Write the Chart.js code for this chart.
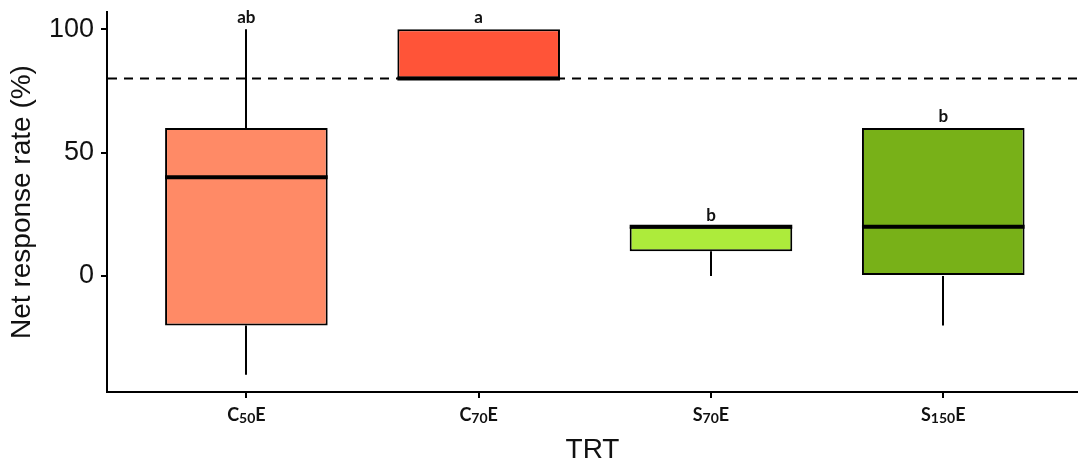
<!DOCTYPE html>
<html>
<head>
<meta charset="utf-8">
<script src="https://cdn.jsdelivr.net/npm/chart.js@4/dist/chart.umd.min.js"></script>
<style>
  html, body { margin: 0; padding: 0; background: #fff; }
  #wrap { width: 1078px; height: 466px; position: relative; }
</style>
</head>
<body>
<div id="wrap"><canvas id="c" width="1078" height="466"></canvas></div>
<script>
// ---- data ----
const categories = ['C₅₀E', 'C₇₀E', 'S₇₀E', 'S₁₅₀E'];
const minVals    = [-40, 80, 0, -20];
const q1Vals     = [-20, 80, 10, 0];
const medianVals = [40, 80, 20, 20];
const q3Vals     = [60, 100, 20, 60];
const maxVals    = [100, 100, 20, 60];
const groupLetters = ['ab', 'a', 'b', 'b'];
const yTickValues = [0, 50, 100];
const thresholdValue = 80;
const xTitle = 'TRT';
const yTitle = 'Net response rate (%)';

const boxColors = ['#FF8A66', '#FF5438', '#ADEB3B', '#78B118'];

const SUB = {'₀':'0','₁':'1','₂':'2','₃':'3','₄':'4','₅':'5','₆':'6','₇':'7','₈':'8','₉':'9'};

const boxPlugin = {
  id: 'boxParts',
  beforeDatasetsDraw(chart) {
    const {ctx, chartArea, scales: {x, y}} = chart;
    ctx.save();
    const ty = y.getPixelForValue(thresholdValue);
    ctx.strokeStyle = '#000';
    ctx.lineWidth = 2;
    ctx.setLineDash([9, 7]);
    ctx.beginPath();
    ctx.moveTo(chartArea.left + 1, ty);
    ctx.lineTo(chartArea.right, ty);
    ctx.stroke();
    ctx.setLineDash([]);
    categories.forEach((c, i) => {
      const cx = Math.round(x.getPixelForValue(i + 1));
      ctx.beginPath();
      ctx.moveTo(cx, y.getPixelForValue(q3Vals[i]));
      ctx.lineTo(cx, y.getPixelForValue(maxVals[i]));
      ctx.moveTo(cx, y.getPixelForValue(q1Vals[i]));
      ctx.lineTo(cx, y.getPixelForValue(minVals[i]));
      ctx.stroke();
    });
    ctx.restore();
  },
  afterDatasetsDraw(chart) {
    const {ctx, scales: {x, y}} = chart;
    const meta = chart.getDatasetMeta(0);
    ctx.save();
    categories.forEach((c, i) => {
      const bar = meta.data[i];
      const half = bar.width / 2;
      const my = y.getPixelForValue(medianVals[i]);
      ctx.strokeStyle = '#000';
      ctx.lineWidth = 4;
      ctx.beginPath();
      ctx.moveTo(bar.x - half, my);
      ctx.lineTo(bar.x + half, my);
      ctx.stroke();
      ctx.fillStyle = '#111';
      ctx.font = 'bold 17px Lato';
      ctx.textAlign = 'center';
      ctx.textBaseline = 'alphabetic';
      ctx.fillText(groupLetters[i], bar.x, y.getPixelForValue(maxVals[i]) - 6);
    });
    ctx.restore();
  },
  afterDraw(chart) {
    const {ctx, scales: {x}} = chart;
    ctx.save();
    ctx.fillStyle = '#111';
    ctx.textBaseline = 'alphabetic';
    ctx.textAlign = 'left';
    const big = 'bold 18px Lato', small = 'bold 14px Lato';
    categories.forEach((lab, i) => {
      const cx = x.getPixelForValue(i + 1);
      const parts = [];
      for (const ch of lab) {
        const sub = SUB[ch] !== undefined;
        const t = sub ? SUB[ch] : ch;
        ctx.font = sub ? small : big;
        parts.push({t, sub, w: ctx.measureText(t).width});
      }
      const total = parts.reduce((s, p) => s + p.w, 0);
      let px = cx - total / 2;
      const base = x.bottom - 45;
      parts.forEach(p => {
        ctx.font = p.sub ? small : big;
        ctx.fillText(p.t, px, base + (p.sub ? 2 : 0));
        px += p.w;
      });
    });
    ctx.restore();
  }
};

new Chart(document.getElementById('c'), {
  type: 'bar',
  data: {
    datasets: [{
      data: categories.map((c, i) => ({x: i + 1, y: [q1Vals[i], q3Vals[i]]})),
      backgroundColor: boxColors,
      borderColor: '#000',
      borderWidth: 2,
      borderSkipped: false,
      barPercentage: 0.7,
      categoryPercentage: 1
    }]
  },
  options: {
    responsive: false,
    animation: false,
    layout: { padding: { top: 12, left: 0, right: 0, bottom: 0 } },
    plugins: { legend: { display: false }, tooltip: { enabled: false } },
    scales: {
      x: {
        type: 'linear',
        offset: false,
        min: 0.4,
        max: 4.58,
        afterBuildTicks: (s) => { s.ticks = [1, 2, 3, 4].map(v => ({value: v})); },
        afterFit: (s) => { s.height = 74; s.paddingLeft = 0; s.paddingRight = 0; },
        grid: { display: true, offset: false, drawOnChartArea: false, drawTicks: true, tickLength: 6, color: '#000', lineWidth: 2 },
        border: { display: true, color: '#000', width: 2 },
        ticks: { display: false },
        title: {
          display: true, text: xTitle, color: '#111',
          font: { family: 'Liberation Sans', size: 28, lineHeight: 1 },
          padding: { top: 0, bottom: 2 }
        }
      },
      y: {
        min: -47,
        max: 107,
        afterBuildTicks: (s) => { s.ticks = yTickValues.map(v => ({value: v})); },
        afterFit: (s) => { s.width = 107; s.paddingTop = 0; s.paddingBottom = 0; },
        grid: { display: true, drawOnChartArea: false, drawTicks: true, tickLength: 6, color: '#000', lineWidth: 2 },
        border: { display: true, color: '#000', width: 2 },
        ticks: {
          color: '#111', padding: 7,
          font: { family: 'Liberation Sans', size: 27 }
        },
        title: {
          display: true, text: yTitle, color: '#111',
          font: { family: 'Liberation Sans', size: 28, lineHeight: 1 },
          padding: { top: 8, bottom: 0 }
        }
      }
    }
  },
  plugins: [boxPlugin]
});
</script>
</body>
</html>
